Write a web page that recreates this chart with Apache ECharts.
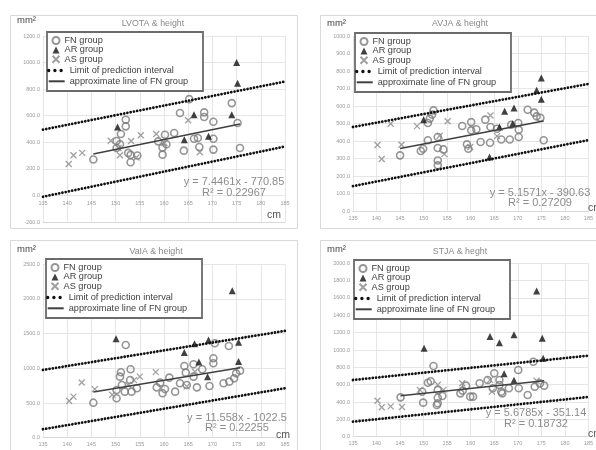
<!DOCTYPE html>
<html>
<head>
<meta charset="utf-8">
<script src="https://cdn.jsdelivr.net/npm/echarts@6/dist/echarts.min.js"></script>
<style>
  html, body { margin: 0; padding: 0; background: #ffffff; }
  #chart { width: 596px; height: 450px; }
</style>
</head>
<body>
<div id="chart"></div>
<script>
// Height (cm) against annulus / root areas (mm²) for three patient groups.

// Shared height axis: min, max, step
const heightAxis = [135, 185, 5];

// Area axes: min, max, step
const lvotaAxis = [-200, 1200, 200];
const avjaAxis = [0, 1000, 100];
const vaiaAxis = [0, 2500, 500];
const stjaAxis = [0, 2000, 200];

// Regression of the FN group: slope, intercept, R²
const lvotaFit = [7.4461, -770.85, 0.22967];
const avjaFit = [5.1571, -390.63, 0.27209];
const vaiaFit = [11.558, -1022.5, 0.22255];
const stjaFit = [5.6785, -351.14, 0.18732];

// LVOTA
const lvotaFN = [[165.2,725],[174.0,695],[163.3,620],[168.3,625],[168.3,590],[170.2,555],[175.2,545],
  [152.1,570],[152.1,520],[151.1,462],[150.2,410],[150.9,385],[145.4,270],[153.1,305],[153.1,250],
  [154.5,300],[160.2,457],[162.1,470],[158.8,407],[159.7,360],[159.7,307],[164.1,337],[166.2,427],
  [167.0,432],[167.3,365],[170.2,427],[170.2,345],[175.7,357],[160.5,385],[150.2,357],[152.6,320]];
const lvotaAR = [[175.0,1000],[175.2,845],[174.0,607],[150.4,515],[166.2,607],[164.2,420],[169.2,445]];
const lvotaAS = [[140.3,237],[141.3,303],[143.1,320],[149.0,412],[150.9,303],[153.2,410],[155.2,453],
  [158.4,463],[160.1,395],[165.0,566],[167.4,325],[154.3,285],[150.6,357]];
const lvotaUpper = [[135,495],[185,857]];
const lvotaLower = [[135,-10],[185,368]];

// AVJA
const avjaFN = [[152.1,575],[151.8,551],[151.3,528],[150.9,503],[158.2,486],[160.1,508],[160.1,461],
  [161.2,467],[163.1,522],[164.2,480],[165.6,470],[168.6,493],[170.1,503],[170.2,465],[172.1,579],
  [173.5,562],[174.0,541],[174.8,533],[175.5,404],[170.2,423],[168.3,409],[166.5,409],[164.1,390],
  [162.1,394],[159.2,381],[159.5,356],[150.9,404],[153.0,423],[153.0,360],[154.2,352],[149.4,343],
  [149.9,356],[153.0,289],[153.0,261],[145.0,318]];
const avjaAR = [[175.0,760],[174.0,690],[175.0,638],[150.0,522],[167.2,570],[169.2,589],[166.1,480],
  [168.9,499],[164.0,309]];
const avjaAS = [[140.2,377],[141.1,297],[143.0,499],[145.3,379],[148.6,485],[155.1,513],[153.4,430],
  [154.4,325],[164.2,546],[165.6,428],[159.9,366]];
const avjaUpper = [[135,480],[185,726]];
const avjaLower = [[135,142],[185,405]];

// VaIA
const vaiaFN = [[152.1,1337],[151.1,943],[153.1,986],[150.9,880],[153.0,832],[151.3,760],[150.2,688],
  [150.2,568],[151.9,664],[153.3,664],[154.4,712],[145.4,505],[159.2,794],[161.1,866],[158.5,726],
  [160.2,702],[159.7,640],[162.3,664],[164.2,1034],[166.1,1058],[167.9,986],[164.5,938],[166.1,880],
  [163.3,784],[164.7,760],[166.8,726],[169.4,746],[170.2,1145],[170.2,1073],[170.5,1361],[173.4,1323],
  [172.3,784],[173.5,808],[174.5,856],[174.9,928],[175.7,967]];
const vaiaAR = [[174.1,2117],[150.1,1425],[164.2,1230],[166.3,1355],[169.2,1410],[175.4,1375],
  [167.2,1090],[175.4,1100],[169.0,880]];
const vaiaAS = [[140.4,530],[141.3,592],[143.0,795],[145.7,700],[149.3,620],[152.6,760],[155.0,880],
  [158.3,945],[164.7,740],[166.4,950],[153.8,830]];
const vaiaUpper = [[135,977],[185,1540]];
const vaiaLower = [[135,122],[185,713]];

// STJA
const stjaFN = [[152.1,815],[150.9,623],[151.5,640],[149.7,519],[149.9,393],[153.0,539],[153.0,450],
  [153.0,385],[154.0,469],[145.1,454],[158.3,531],[159.0,589],[159.9,462],[160.5,462],[161.9,616],
  [163.6,654],[165.0,731],[164.7,558],[166.1,596],[166.5,519],[166.7,500],[168.1,558],[170.1,770],
  [170.2,558],[172.1,481],[173.6,577],[173.3,865],[174.7,615],[175.6,589],[166.1,654],[152.8,366],
  [157.8,500]];
const stjaAR = [[174.0,1680],[150.1,1020],[164.1,1155],[166.1,1085],[169.2,1175],[175.2,1135],
  [175.4,905],[167.1,725],[169.2,650]];
const stjaAS = [[140.2,415],[141.1,340],[143.0,350],[145.4,342],[149.2,540],[153.0,600],[154.2,540],
  [158.2,616],[164.1,655],[164.5,520],[174.0,646]];
const stjaUpper = [[135,654],[185,935]];
const stjaLower = [[135,173],[185,458]];

const FONT = '"Liberation Sans", Arial, sans-serif';
const CROSS = 'path://M0,0L10,10M10,0L0,10';

// Layout of the four charts on the page
const panels = [
  { title: 'LVOTA & height', fn: lvotaFN, ar: lvotaAR, as: lvotaAS, upper: lvotaUpper, lower: lvotaLower,
    fit: lvotaFit, axis: lvotaAxis, frame: [10, 15], grid: [43, 36, 242, 186], titleAt: [153, 24],
    unitAt: [17, 20], cmAt: [267, 215], eqAt: [234, 182, 192.5], legend: [47, 32], labelMargin: 5 },
  { title: 'AVJA & height', fn: avjaFN, ar: avjaAR, as: avjaAS, upper: avjaUpper, lower: avjaLower,
    fit: avjaFit, axis: avjaAxis, frame: [320, 15], grid: [353, 36, 242, 175], titleAt: [460, 24],
    unitAt: [327, 23], cmAt: [588, 208], eqAt: [540, 193, 203], legend: [355, 33], labelMargin: 4 },
  { title: 'VaIA & height', fn: vaiaFN, ar: vaiaAR, as: vaiaAS, upper: vaiaUpper, lower: vaiaLower,
    fit: vaiaFit, axis: vaiaAxis, frame: [10, 240], grid: [43, 264.3, 242, 173.4], titleAt: [156, 251.5],
    unitAt: [17, 249], cmAt: [276, 435], eqAt: [237, 417.5, 427.5], legend: [46, 259], labelMargin: 4 },
  { title: 'STJA & heght', fn: stjaFN, ar: stjaAR, as: stjaAS, upper: stjaUpper, lower: stjaLower,
    fit: stjaFit, axis: stjaAxis, frame: [320, 240], grid: [353, 263.3, 242, 173.4], titleAt: [460, 252],
    unitAt: [327, 249], cmAt: [588, 434], eqAt: [536, 413, 424], legend: [354, 260], labelMargin: 4 }
];

// Trend line of the FN group over the span of its heights
function fitLine(points, fit) {
  const xs = points.map(p => p[0]);
  const x0 = Math.min.apply(null, xs), x1 = Math.max.apply(null, xs);
  return [[x0, fit[0] * x0 + fit[1]], [x1, fit[0] * x1 + fit[1]]];
}

const grid = [], xAxis = [], yAxis = [], series = [], legend = [], graphic = [];

panels.forEach((p, i) => {
  grid.push({ left: p.grid[0], top: p.grid[1], width: p.grid[2], height: p.grid[3] });

  // height labels sit just under the zero line of the area axis
  const zeroLift = p.grid[3] * (0 - p.axis[0]) / (p.axis[1] - p.axis[0]);

  xAxis.push({
    type: 'value', gridIndex: i, min: heightAxis[0], max: heightAxis[1], interval: heightAxis[2],
    axisLine: { show: true, onZero: false, lineStyle: { color: '#d9d9d9', width: 1 } },
    axisTick: { show: false },
    axisLabel: { fontSize: 5.5, color: '#9a9a9a', fontFamily: FONT, margin: p.labelMargin - zeroLift,
      formatter: v => String(v) },
    splitLine: { show: true, lineStyle: { color: '#e0e0e0', width: 0.8 } }
  });
  yAxis.push({
    type: 'value', gridIndex: i, min: p.axis[0], max: p.axis[1], interval: p.axis[2],
    axisLine: { show: false }, axisTick: { show: false },
    axisLabel: { fontSize: 5.5, color: '#9a9a9a', fontFamily: FONT, margin: 3,
      formatter: v => v.toFixed(1) },
    splitLine: { show: true, lineStyle: { color: '#e0e0e0', width: 0.8 } }
  });

  const ax = { xAxisIndex: i, yAxisIndex: i };
  series.push(Object.assign({
    name: 'FN group', type: 'scatter', data: p.fn, symbol: 'circle', symbolSize: 7,
    itemStyle: { color: 'rgba(255,255,255,0)', borderColor: '#7a7a7a', borderWidth: 1.6 }
  }, ax));
  series.push(Object.assign({
    name: 'AR group', type: 'scatter', data: p.ar, symbol: 'triangle', symbolSize: 7,
    itemStyle: { color: '#111111' }
  }, ax));
  series.push(Object.assign({
    name: 'AS group', type: 'scatter', data: p.as, symbol: CROSS, symbolSize: 6,
    itemStyle: { color: 'rgba(0,0,0,0)', borderColor: '#888888', borderWidth: 1.3 }
  }, ax));
  [p.upper, p.lower].forEach(band => {
    series.push(Object.assign({
      name: 'Limit of prediction interval', type: 'line', data: band, symbol: 'none', z: 3,
      lineStyle: { color: '#111111', width: 2.8, type: [0.01, 3.3], cap: 'round' }
    }, ax));
  });
  series.push(Object.assign({
    name: 'approximate line of FN group', type: 'line', data: fitLine(p.fn, p.fit), symbol: 'none', z: 3,
    lineStyle: { color: '#404040', width: 1.6 }
  }, ax));

  const lx = p.legend[0], ly = p.legend[1];
  const textStyle = { fontSize: 9.2, color: '#404040', fontFamily: FONT };
  legend.push({
    orient: 'vertical', left: lx + 4.5, top: ly + 4, padding: 0, itemWidth: 7, itemHeight: 7,
    itemGap: 0.4, selectedMode: false, textStyle: textStyle,
    data: ['FN group', 'AR group', 'AS group']
  });
  legend.push({
    orient: 'vertical', left: lx, top: ly + 34, padding: 0, itemWidth: 16, itemHeight: 7,
    itemGap: 1.8, selectedMode: false, textStyle: textStyle,
    itemStyle: { color: 'rgba(0,0,0,0)', borderColor: 'rgba(0,0,0,0)', borderWidth: 0 },
    data: [
      { name: 'Limit of prediction interval', lineStyle: { width: 3.4, type: [0.01, 6.2], cap: 'round' } },
      'approximate line of FN group'
    ]
  });

  // panel frame and legend box
  graphic.push({ type: 'rect', z: 0, silent: true,
    shape: { x: p.frame[0] + 0.5, y: p.frame[1] + 0.5, width: 287, height: 213 },
    style: { fill: 'none', stroke: '#d9d9d9', lineWidth: 1 } });
  graphic.push({ type: 'rect', z: 3, silent: true,
    shape: { x: lx, y: ly, width: 156, height: 59 },
    style: { fill: '#ffffff', stroke: '#6b6b6b', lineWidth: 1.8 } });

  graphic.push({ type: 'text', z: 5, x: p.titleAt[0], y: p.titleAt[1],
    style: { text: p.title, fontSize: 8.8, fontFamily: FONT, fill: '#8a8a8a', align: 'center', verticalAlign: 'middle' } });
  graphic.push({ type: 'text', z: 5, x: p.unitAt[0], y: p.unitAt[1],
    style: { text: 'mm²', fontSize: 9.5, fontFamily: FONT, fill: '#444444', align: 'left', verticalAlign: 'middle' } });
  graphic.push({ type: 'text', z: 5, x: p.cmAt[0], y: p.cmAt[1],
    style: { text: 'cm', fontSize: 10.5, fontFamily: FONT, fill: '#555555', align: 'left', verticalAlign: 'middle' } });

  const eq = 'y = ' + p.fit[0] + 'x - ' + Math.abs(p.fit[1]);
  graphic.push({ type: 'text', z: 5, x: p.eqAt[0], y: p.eqAt[1],
    style: { text: eq, fontSize: 11, fontFamily: FONT, fill: '#8c8c8c', align: 'center', verticalAlign: 'middle' } });
  graphic.push({ type: 'text', z: 5, x: p.eqAt[0], y: p.eqAt[2],
    style: { text: 'R² = ' + p.fit[2], fontSize: 11, fontFamily: FONT, fill: '#8c8c8c', align: 'center', verticalAlign: 'middle' } });
});

const chart = echarts.init(document.getElementById('chart'), null, { renderer: 'canvas' });
chart.setOption({
  animation: false,
  backgroundColor: '#ffffff',
  grid: grid,
  xAxis: xAxis,
  yAxis: yAxis,
  legend: legend,
  series: series,
  graphic: graphic
});
</script>
</body>
</html>
